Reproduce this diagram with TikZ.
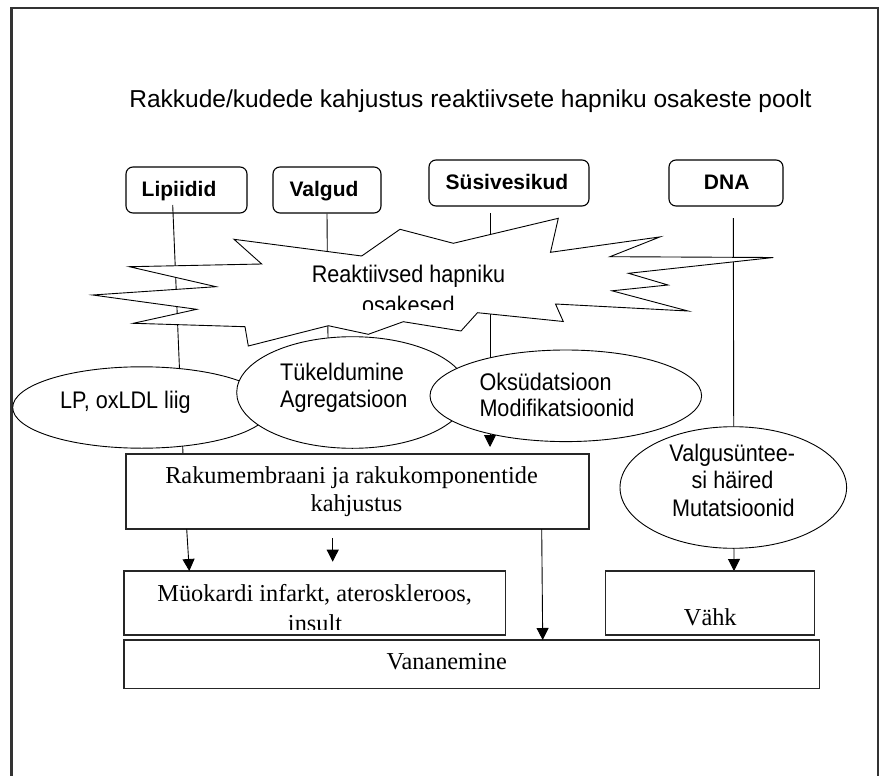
\documentclass[tikz,border=0pt]{standalone}
\usepackage{fontspec}
\setmainfont{Liberation Serif}
\newfontfamily\titlefont{Liberation Sans}
\newfontfamily\condfont[FakeStretch=0.9]{Liberation Sans}
\usetikzlibrary{shapes.geometric,arrows.meta}
\definecolor{framegray}{HTML}{333333}
\begin{document}
\begin{tikzpicture}[x=1pt,y=-1pt,
  conn/.style={draw=black, line width=0.9pt},
  arr/.style={conn, -{Triangle[width=12pt,length=12pt]}},
  topbox/.style={draw=black, line width=1.1pt, rounded corners=7pt, fill=white, inner sep=0pt},
  sqbox/.style={draw=black!85, line width=1.3pt, fill=white, inner sep=0pt},
  ell/.style={ellipse, draw=black, line width=0.9pt, fill=white, inner sep=0pt},
  boldlbl/.style={font=\titlefont\bfseries\fontsize{21}{25}\selectfont, inner sep=0pt},
  condlbl/.style={font=\condfont\fontsize{24}{27}\selectfont, inner sep=0pt},
  seriflbl/.style={font=\fontsize{24.3}{28}\selectfont, inner sep=0pt},
]
\useasboundingbox (0,0) rectangle (884,776);

% outer frame (open at the bottom)
\draw[line width=2.3pt, draw=framegray] (11.5,780) -- (11.5,8) -- (878,8) -- (878,780);

% title
\node[font=\titlefont\fontsize{24.5}{28}\selectfont, anchor=base, inner sep=0pt] (title) at (470.5,107) {Rakkude/kudede kahjustus reaktiivsete hapniku osakeste poolt};

% top rounded boxes
\node[topbox, minimum width=121pt, minimum height=46pt] (lip) at (186.5,190) {};
\node[topbox, minimum width=108pt, minimum height=46pt] (valg) at (327,190) {};
\node[topbox, minimum width=160pt, minimum height=46pt] (sus) at (509,183) {};
\node[topbox, minimum width=114pt, minimum height=46pt] (dna) at (726,183) {};
\node[boldlbl, anchor=base] (liplbl) at (179,196) {Lipiidid};
\node[boldlbl, anchor=base] (valglbl) at (324,196) {Valgud};
\node[boldlbl, anchor=base] (suslbl) at (507,189.3) {Süsivesikud};
\node[boldlbl, anchor=base] (dnalbl) at (726.7,189.3) {DNA};

% connector end points
\coordinate (lipS) at (172.7,205);
\coordinate (lipE) at (183,454);
\coordinate (valgE) at (328,340);
\coordinate (susS) at (490,213);
\coordinate (susE) at (490,447);
\coordinate (dnaS) at (733.3,218);
\coordinate (dnaE) at (734,571);

% connectors lying behind the shapes
\draw[conn] (lipS) -- (lipE);
\draw[conn] (valg.south) -- (valgE);
\draw[arr] (susS) -- (susE);
\draw[arr] (dnaS) -- (dnaE);

% starburst
\draw[line width=0.9pt, fill=white] (234,239.3) -- (361.7,256) -- (400,229.3) -- (453.3,243.3) -- (558.3,218.3) -- (550.5,252.3) -- (660,236.9) -- (610,256.7) -- (773.3,257.5) -- (628.5,273.3) -- (668,285) -- (612,290.8) -- (688,311) -- (555.5,304) -- (563.3,321.5) -- (477.5,312.7) -- (461,331) -- (403.3,321.7) -- (368.3,334.3) -- (328.3,325.7) -- (248.3,346) -- (245,326.7) -- (133.3,323.3) -- (196.7,309.3) -- (92.7,295) -- (216,286.7) -- (129.3,266.7) -- (261.7,264) -- cycle;
\node[condlbl, anchor=base] (ros1) at (408.5,282.7) {Reaktiivsed hapniku};
\begin{scope}
\clip (300,290) rectangle (520,309.3);
\node[condlbl, anchor=base] (ros2) at (408.3,313.7) {osakesed};
\end{scope}

% ellipses
\node[ell, minimum width=258pt, minimum height=81.4pt] (lp) at (141.7,407.5) {};
\node[condlbl, anchor=base west] (lplbl) at (60,408) {LP, oxLDL liig};
\node[ell, minimum width=231.4pt, minimum height=111.6pt] (tuk) at (352.4,392.5) {};
\node[condlbl, anchor=base west] (tuk1) at (280,380) {Tükeldumine};
\node[condlbl, anchor=base west] (tuk2) at (280,407.3) {Agregatsioon};
\node[ell, minimum width=271.6pt, minimum height=91.6pt] (oks) at (565.8,395.8) {};
\node[condlbl, anchor=base west] (oks1) at (479.3,390) {Oksüdatsioon};
\node[condlbl, anchor=base west] (oks2) at (479.3,416) {Modifikatsioonid};
\node[ell, minimum width=226.6pt, minimum height=121.6pt] (valel) at (733.3,487.5) {};
\node[condlbl, anchor=base] (val1) at (732.3,461.7) {Valgusüntee-};
\node[condlbl, anchor=base] (val2) at (732.5,488.3) {si häired};
\node[condlbl, anchor=base] (val3) at (733.3,516.7) {Mutatsioonid};

% lower boxes
\node[sqbox, minimum width=463pt, minimum height=75pt] (rak) at (357.5,491.5) {};
\node[seriflbl, anchor=base] (rak1) at (351.5,483.3) {Rakumembraani ja rakukomponentide};
\node[seriflbl, anchor=base] (rak2) at (356.5,511.7) {kahjustus};

\node[sqbox, minimum width=381.7pt, minimum height=64pt] (mio) at (314.85,603) {};
\node[seriflbl, anchor=base] (mio1) at (314.7,601.7) {Müokardi infarkt, ateroskleroos,};
\begin{scope}
\clip (200,610) rectangle (420,629.3);
\node[seriflbl, anchor=base] (mio2) at (315,631.2) {insult};
\end{scope}

\node[sqbox, minimum width=209pt, minimum height=64pt] (vahk) at (709.8,603) {};
\node[seriflbl, anchor=base] (vahklbl) at (710.3,625) {Vähk};

\node[sqbox, minimum width=695.3pt, minimum height=48.3pt] (van) at (471.65,664.15) {};
\node[seriflbl, anchor=base] (vanlbl) at (446.7,669.3) {Vananemine};

% arrows between the lower boxes
\coordinate (rakA) at (186.7,529);
\coordinate (mioA) at (189.3,571);
\coordinate (shortS) at (332.7,538.3);
\coordinate (shortE) at (332.7,561.7);
\coordinate (rakB) at (541.7,529);
\coordinate (vanB) at (542.7,640);
\draw[arr] (rakA) -- (mioA);
\draw[arr] (shortS) -- (shortE);
\draw[arr] (rakB) -- (vanB);
\end{tikzpicture}
\end{document}
